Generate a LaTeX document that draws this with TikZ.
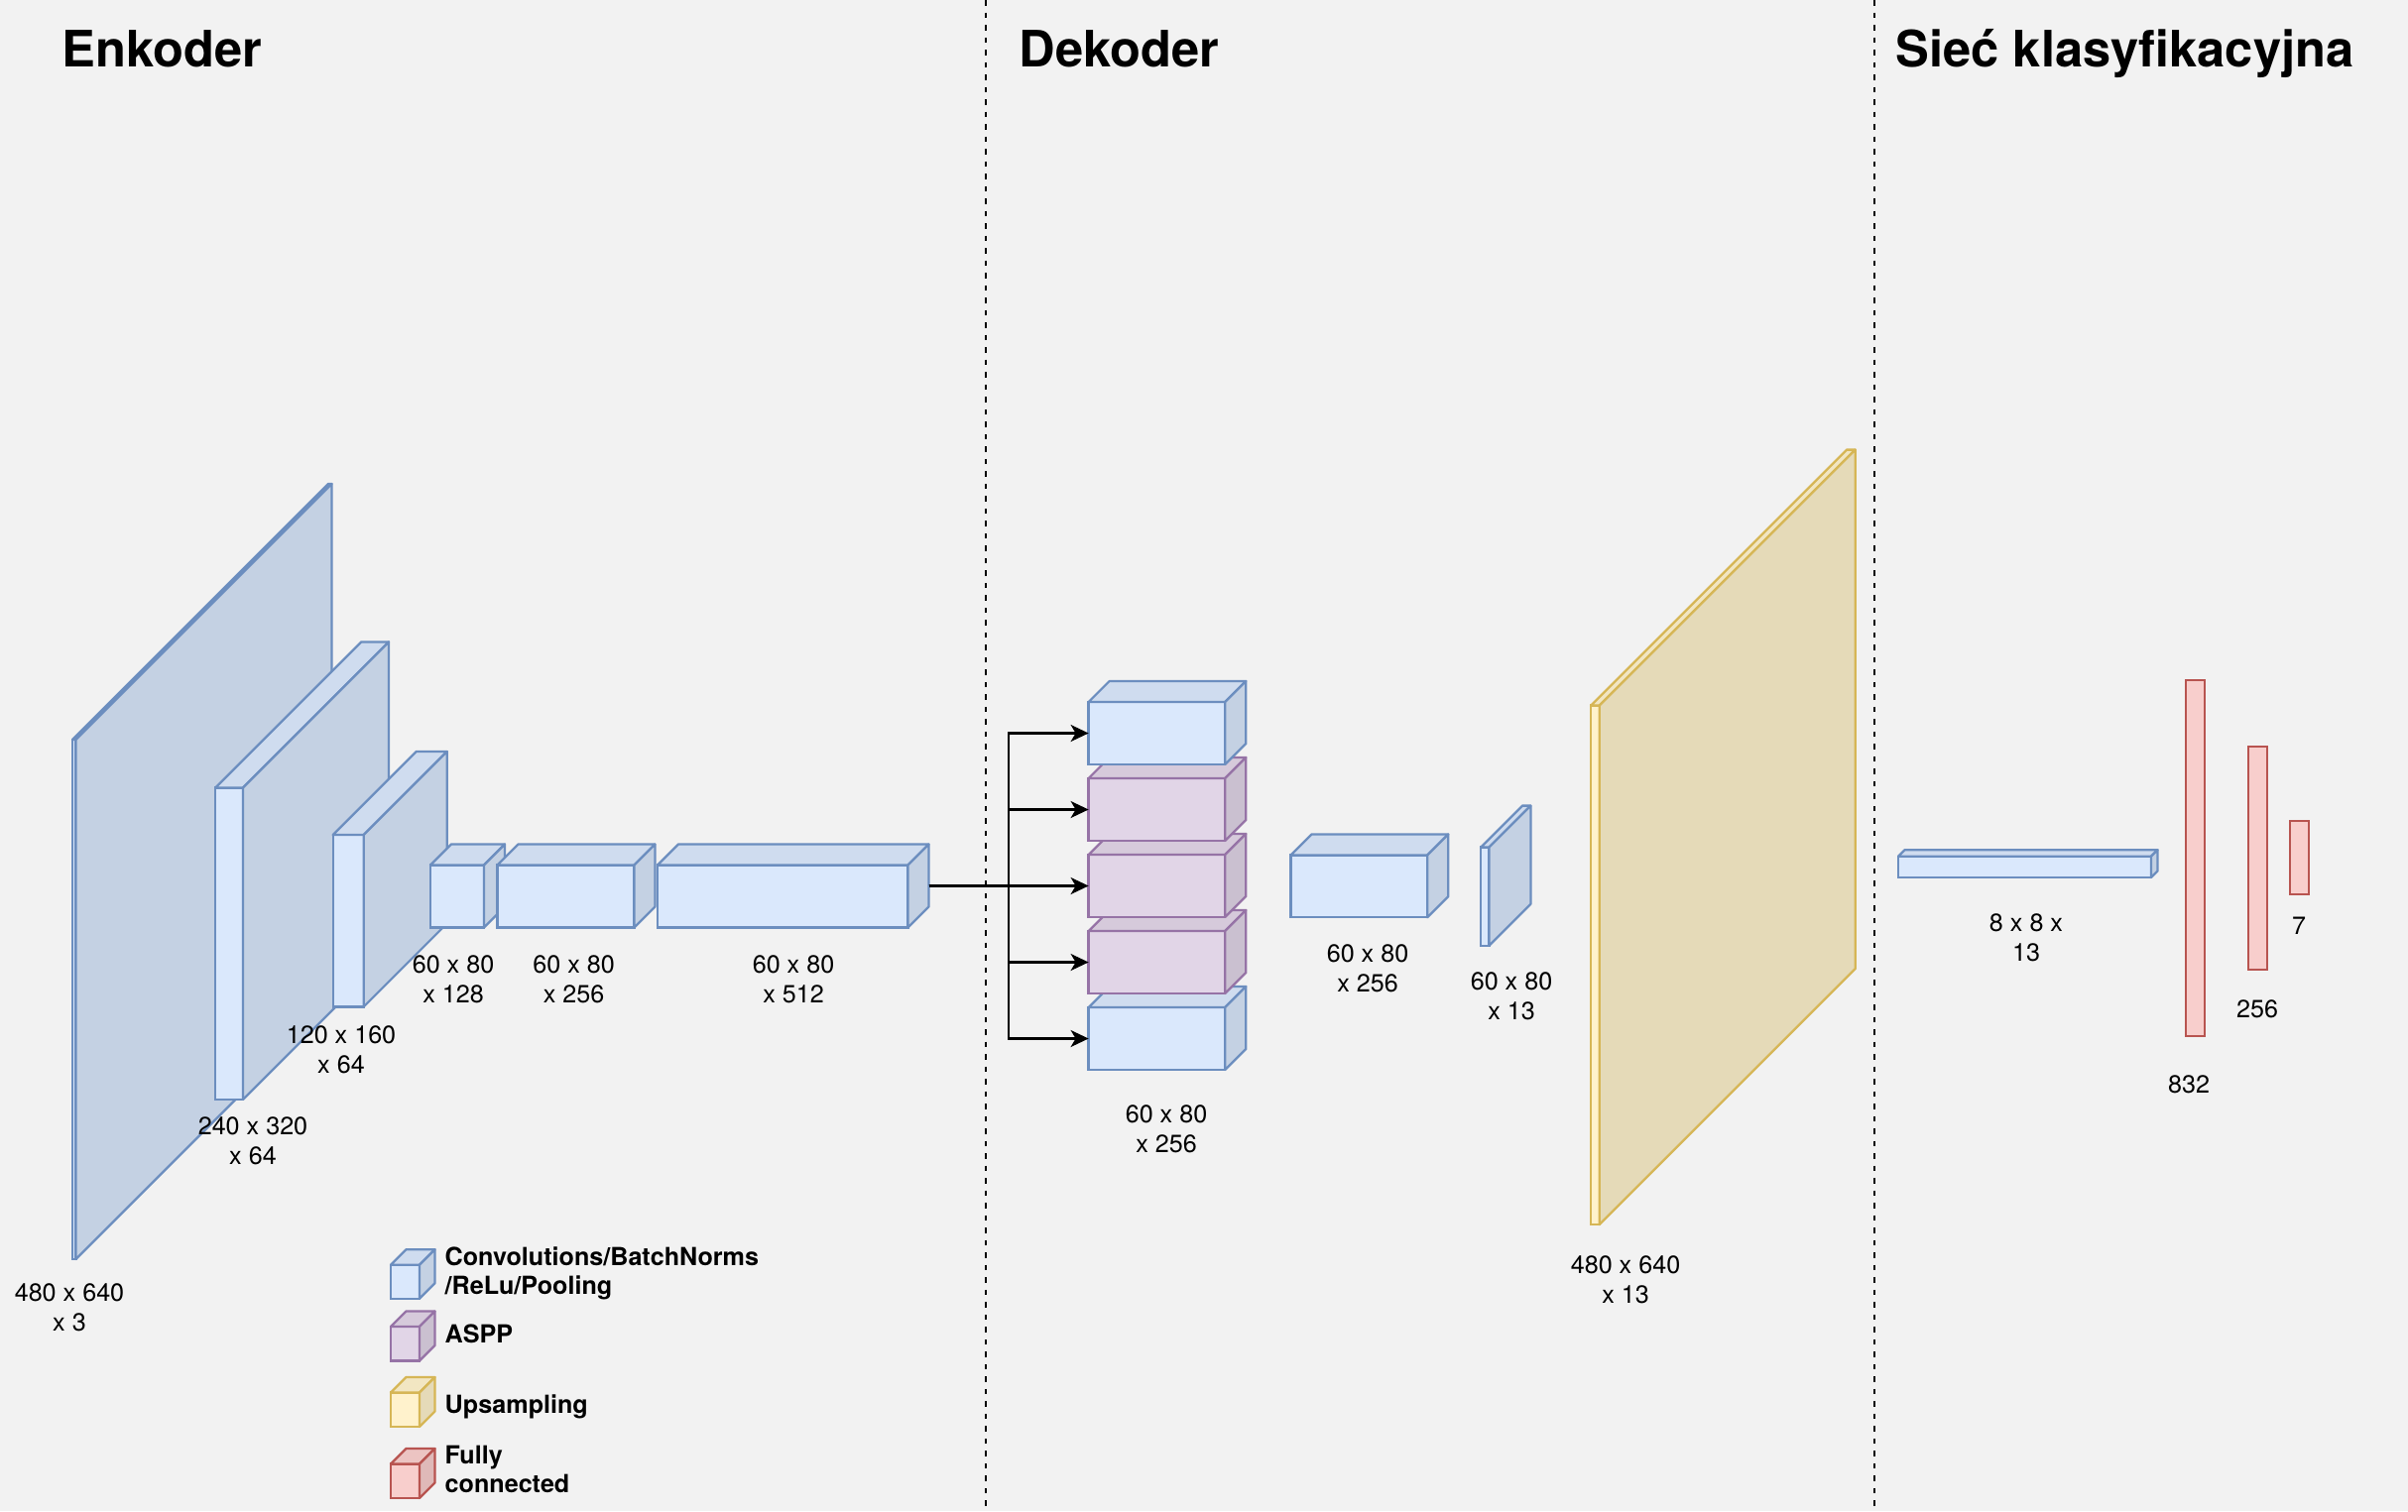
\documentclass[tikz,border=0pt]{standalone}
\usepackage{fontspec}
\setmainfont{TeX Gyre Heros}
\usetikzlibrary{arrows.meta}
\definecolor{bg}{HTML}{F2F2F2}
\definecolor{bfill}{HTML}{DAE8FC}\definecolor{bline}{HTML}{6C8EBF}
\definecolor{pfill}{HTML}{E1D5E7}\definecolor{pline}{HTML}{9673A6}
\definecolor{yfill}{HTML}{FFF2CC}\definecolor{yline}{HTML}{D6B656}
\definecolor{rfill}{HTML}{F8CECC}\definecolor{rline}{HTML}{B85450}
% #1 name, #2 x, #3 y (front top-left), #4 w, #5 h, #6 depth, #7 fill, #8 stroke
\newcommand\mycube[8]{%
  \node[cubefront, fill=#7, draw=#8, minimum width=#4*0.01cm, minimum height=#5*0.01cm] (#1) at (#2,#3) {};
  \filldraw[face, fill=#7!95!black, draw=#8] (#1.north west) -- ++(#6,-#6) -- ++(#4,0) -- (#1.north east) -- cycle;
  \filldraw[face, fill=#7!90!black, draw=#8] (#1.north east) -- ++(#6,-#6) -- ++(0,#5) -- (#1.south east) -- cycle;
}
\newcommand\twol[2]{\begin{tabular}[t]{@{}c@{}}#1\\#2\end{tabular}}
\newcommand\twoll[2]{\begin{tabular}[t]{@{}l@{}}#1\\#2\end{tabular}}
\begin{document}
\begin{tikzpicture}[x=0.01cm,y=-0.01cm,
  cubefront/.style={rectangle,anchor=north west,inner sep=0pt,outer sep=0pt,line width=0.65pt},
  face/.style={line width=0.65pt,line join=round},
  lbl/.style={anchor=base,inner sep=0pt,font=\fontsize{7.15pt}{8.54pt}\selectfont},
  titletext/.style={anchor=base west,inner sep=0pt,font=\fontsize{14.4pt}{17pt}\selectfont\bfseries},
  legtext/.style={anchor=base west,inner sep=0pt,font=\fontsize{7.15pt}{8.3pt}\selectfont\bfseries},
  sepline/.style={line width=0.57pt,dash pattern=on 0.055cm off 0.07cm},
  arr/.style={line width=0.6pt,-{Stealth[length=0.18cm,width=0.17cm,inset=0.05cm]}},
  bar/.style={rectangle,anchor=north west,inner sep=0pt,outer sep=0pt,line width=0.65pt,fill=rfill,draw=rline,minimum width=19*0.01cm}]
\fill[bg] (0,0) rectangle (2428,1524);
\useasboundingbox (0,0) rectangle (2428,1524);

% separators
\coordinate (s1t) at (993.5,0); \coordinate (s1b) at (993.5,1524);
\coordinate (s2t) at (1889.5,0); \coordinate (s2b) at (1889.5,1524);
\draw[sepline] (s1t) -- (s1b);
\draw[sepline] (s2t) -- (s2b);

% titles
\node[titletext] (tEnc) at (62,67.5) {Enkoder};
\node[titletext] (tDec) at (1027,67.5) {Dekoder};
\node[titletext] (tCls) at (1911,67.5) {Sieć klasyfikacyjna};

% encoder
\mycube{p1}{73}{746}{3.5}{524}{258}{bfill}{bline}
\mycube{p2}{217.3}{794.4}{27.7}{314.5}{147}{bfill}{bline}
\mycube{p3}{335.7}{842}{31}{173.4}{84}{bfill}{bline}
\mycube{b4}{434}{872.5}{54}{63}{21}{bfill}{bline}
\mycube{b5}{501.4}{872.5}{138}{63}{21}{bfill}{bline}
\mycube{b6}{663}{872.5}{252.5}{63}{21}{bfill}{bline}

% ASPP stack
\mycube{sE}{1097.6}{1016}{137.7}{63}{21}{bfill}{bline}
\mycube{sD}{1097.6}{939}{137.7}{63}{21}{pfill}{pline}
\mycube{sC}{1097.6}{862}{137.7}{63}{21}{pfill}{pline}
\mycube{sB}{1097.6}{785}{137.7}{63}{21}{pfill}{pline}
\mycube{sA}{1097.6}{708}{137.7}{63}{21}{bfill}{bline}

% connectors
\coordinate (b6out) at ([shift={(21,-10.5)}]b6.east);
\coordinate (bus) at (1017,893.5);
\foreach \t in {sA,sB,sC,sD,sE} \draw[arr] (b6out) -- (bus) |- (\t.west);

% decoder tail
\mycube{dF}{1301.5}{862.5}{137.8}{62.7}{21}{bfill}{bline}
\mycube{dG}{1493}{854.6}{8.4}{99.2}{42}{bfill}{bline}
\mycube{dY}{1604}{711.6}{8.7}{523.4}{258}{yfill}{yline}

% classifier
\mycube{cF}{1914}{863.7}{255}{21.3}{6.5}{bfill}{bline}
\node[bar, minimum height=359.3*0.01cm] (r1) at (2204,685.7) {};
\node[bar, minimum height=224.7*0.01cm] (r2) at (2267,753) {};
\node[bar, minimum height=74.3*0.01cm] (r3) at (2309.2,828) {};

% labels
\node[lbl] (l1) at (70,1312) {\twol{480 x 640}{x 3}};
\node[lbl] (l2) at (255,1144) {\twol{240 x 320}{x 64}};
\node[lbl] (l3) at (344,1052) {\twol{120 x 160}{x 64}};
\node[lbl] (l4) at (457,981) {\twol{60 x 80}{x 128}};
\node[lbl] (l5) at (578.6,981) {\twol{60 x 80}{x 256}};
\node[lbl] (l6) at (800,981) {\twol{60 x 80}{x 512}};
\node[lbl] (l7) at (1176,1132) {\twol{60 x 80}{x 256}};
\node[lbl] (l8) at (1379,970) {\twol{60 x 80}{x 256}};
\node[lbl] (l9) at (1524,998) {\twol{60 x 80}{x 13}};
\node[lbl] (l10) at (1639,1284) {\twol{480 x 640}{x 13}};
\node[lbl] (l11) at (2043,939) {\twol{8 x 8 x}{13}};
\node[lbl] (l12) at (2207,1102) {832};
\node[lbl] (l13) at (2276,1026) {256};
\node[lbl] (l14) at (2318,942) {7};

% legend
\mycube{gB}{394}{1275.7}{29}{34}{15.5}{bfill}{bline}
\mycube{gP}{394}{1338}{29}{34.5}{15.5}{pfill}{pline}
\mycube{gY}{394}{1404.5}{29}{34.5}{15.5}{yfill}{yline}
\mycube{gR}{394}{1476.5}{29}{34.5}{15.5}{rfill}{rline}
\node[legtext] (tB) at (448,1276.7) {\twoll{Convolutions/BatchNorms}{/ReLu/Pooling}};
\node[legtext] (tP) at (448,1354) {ASPP};
\node[legtext] (tY) at (448,1425.5) {Upsampling};
\node[legtext] (tR) at (448,1476.7) {\twoll{Fully}{connected}};
\end{tikzpicture}
\end{document}
